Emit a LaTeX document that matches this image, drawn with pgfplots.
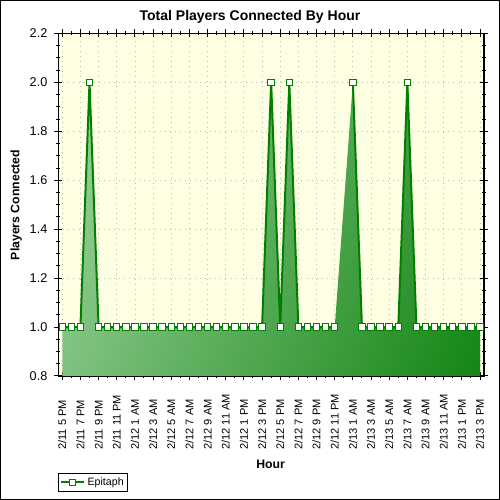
\documentclass[border=0pt]{standalone}
\usepackage{fontspec}
\setmainfont{Liberation Sans}
\usepackage{pgfplots}
\pgfplotsset{compat=1.18}

\definecolor{lnGreen}{RGB}{0,128,0}
\definecolor{fillLight}{RGB}{178,222,178}
\definecolor{fillDark}{RGB}{0,122,0}
\definecolor{plotBg}{RGB}{255,255,228}
\definecolor{gridGray}{RGB}{185,185,185}

% light in the upper left, dark in the lower right
\pgfdeclareverticalshading{greenfade}{100bp}{color(0bp)=(fillDark); color(8bp)=(fillDark);
  color(92bp)=(fillLight); color(100bp)=(fillLight)}

\begin{document}
\begin{tikzpicture}
\useasboundingbox (0,0) rectangle (375pt,375pt);
\begin{axis}[
    at={(43.7pt,93pt)}, anchor=south west,
    scale only axis,
    width=319.3pt, height=256.9pt,
    xmin=-0.44, xmax=46.44,
    ymin=0.8, ymax=2.2,
    axis background/.style={fill=plotBg},
    axis line style={black, line width=0.9pt},
    xtick={0,2,...,46},
    xticklabels={2/11 5 PM,2/11 7 PM,2/11 9 PM,2/11 11 PM,2/12 1 AM,2/12 3 AM,
      2/12 5 AM,2/12 7 AM,2/12 9 AM,2/12 11 AM,2/12 1 PM,2/12 3 PM,2/12 5 PM,
      2/12 7 PM,2/12 9 PM,2/12 11 PM,2/13 1 AM,2/13 3 AM,2/13 5 AM,2/13 7 AM,
      2/13 9 AM,2/13 11 AM,2/13 1 PM,2/13 3 PM},
    minor x tick num=1,
    ytick={0.8,1.0,1.2,1.4,1.6,1.8,2.0,2.2},
    minor y tick num=3,
    tick align=center,
    major tick length=6pt, minor tick length=3pt,
    tick style={black, line width=0.75pt},
    grid=major,
    major grid style={gridGray, line width=0.6pt, dash pattern=on 0.6pt off 3.2pt},
    /pgf/number format/assume math mode=true,
    yticklabel style={font=\fontsize{9.5}{11}\selectfont, anchor=east, inner sep=0pt, xshift=-5pt,
      /pgf/number format/.cd, fixed, fixed zerofill, precision=1},
    xticklabel style={font=\fontsize{8.3}{10}\selectfont, inner sep=0pt,
      yshift=-52.5pt, rotate=90, anchor=west},
    legend style={at={(0,-0.338)}, anchor=south west, draw=black, line width=0.75pt,
      font=\fontsize{8}{9}\selectfont, inner sep=1pt, row sep=0pt,
      legend cell align=left},
]
% filled area under the series (hour 31 has no data)
\addplot[draw=none, shading=greenfade, shading angle=68, forget plot]
coordinates {
(0,0.8) (0,1) (1,1) (2,1) (3,2) (4,1) (5,1) (6,1) (7,1) (8,1) (9,1) (10,1)
(11,1) (12,1) (13,1) (14,1) (15,1) (16,1) (17,1) (18,1) (19,1) (20,1)
(21,1) (22,1) (23,2) (24,1) (25,2) (26,1) (27,1) (28,1) (29,1) (30,1)
(32,2) (33,1) (34,1) (35,1) (36,1) (37,1) (38,2) (39,1) (40,1)
(41,1) (42,1) (43,1) (44,1) (45,1) (46,1) (46,0.8)
} -- cycle;

% players connected per hour
\addplot[lnGreen, line width=1.5pt, unbounded coords=jump,
  mark=square*, mark size=2.4pt,
  mark options={fill=white, draw=lnGreen, line width=0.75pt}]
coordinates {
(0,1) (1,1) (2,1) (3,2) (4,1) (5,1) (6,1) (7,1) (8,1) (9,1) (10,1)
(11,1) (12,1) (13,1) (14,1) (15,1) (16,1) (17,1) (18,1) (19,1) (20,1)
(21,1) (22,1) (23,2) (24,1) (25,2) (26,1) (27,1) (28,1) (29,1) (30,1)
(31,nan) (32,2) (33,1) (34,1) (35,1) (36,1) (37,1) (38,2) (39,1) (40,1)
(41,1) (42,1) (43,1) (44,1) (45,1) (46,1)
};
\addlegendentry{Epitaph}
\end{axis}

\node[font=\bfseries\fontsize{10.5}{12}\selectfont] at (187.5pt,362.3pt) {Total Players Connected By Hour};
\node[font=\bfseries\fontsize{9.2}{11}\selectfont, rotate=90] at (12.2pt,221.3pt) {Players Connected};
\node[font=\bfseries\fontsize{9.2}{11}\selectfont] at (203pt,27pt) {Hour};
\draw[black, line width=0.75pt] (0.375pt,0.375pt) rectangle (374.625pt,374.625pt);
\end{tikzpicture}
\end{document}
